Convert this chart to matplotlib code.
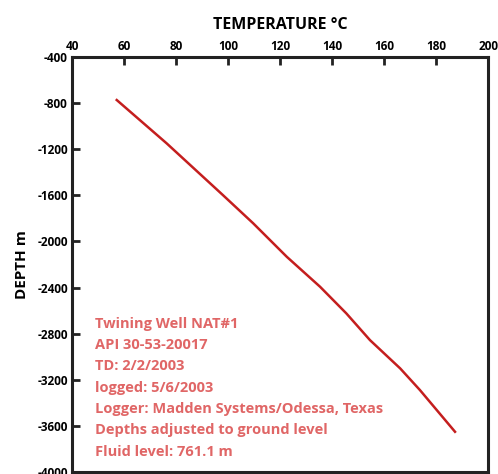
import matplotlib
matplotlib.use("Agg")
import matplotlib.pyplot as plt

temperature = [57.2, 76.4, 98.0, 109.7, 122.6, 135.4, 145.5, 154.6, 166.2, 173.8, 187.3]
depth = [-773, -1149, -1597, -1843, -2133, -2393, -2624, -2856, -3101, -3289, -3651]
xticks = [40, 60, 80, 100, 120, 140, 160, 180, 200]
yticks = [-400, -800, -1200, -1600, -2000, -2400, -2800, -3200, -3600, -4000]
info_lines = ["Twining Well NAT#1", "API 30-53-20017", "TD: 2/2/2003", "logged: 5/6/2003",
              "Logger: Madden Systems/Odessa, Texas", "Depths adjusted to ground level",
              "Fluid level: 761.1 m"]

plt.rcParams['font.family'] = ['Open Sans', 'DejaVu Sans']
plt.rcParams['axes.unicode_minus'] = False
fig = plt.figure(figsize=(4.98, 4.74), dpi=100)
ax = fig.add_axes([0.1446, 0.0042, 0.8354, 0.8755])
ax.plot(temperature, depth, color='#C41E1E', lw=1.8)
ax.set_xlim(40, 200)
ax.set_ylim(-4000, -400)
ax.xaxis.tick_top()
ax.xaxis.set_label_position('top')
ax.set_xticks(xticks)
ax.set_yticks(yticks)
ax.tick_params(axis='both', direction='in', length=6, width=2, labelsize=8.5, color='#222222', pad=3)
for lab in ax.get_xticklabels() + ax.get_yticklabels():
    lab.set_fontweight('bold')
for s in ax.spines.values():
    s.set_linewidth(2.2)
    s.set_color('#222222')
ax.set_xlabel('TEMPERATURE °C', fontsize=11.5, fontweight='bold', labelpad=8)
ax.set_ylabel('DEPTH m', fontsize=11, fontweight='bold', labelpad=6)
for i, t in enumerate(info_lines):
    ax.text(0.055, 0.357 - i * 0.0513, t, transform=ax.transAxes, color='#E06666',
            fontsize=10.5, fontweight='bold', va='center', ha='left')
fig.savefig('out.png', dpi=100)
